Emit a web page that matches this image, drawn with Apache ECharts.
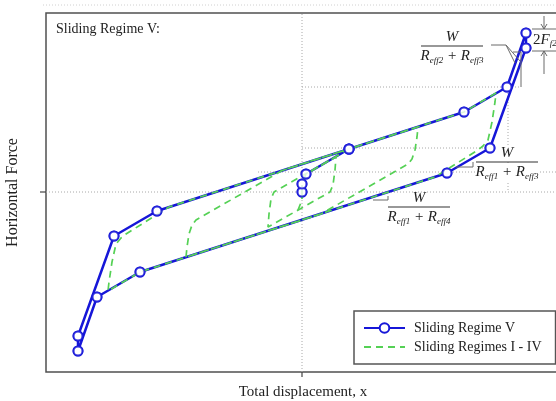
<!DOCTYPE html>
<html><head><meta charset="utf-8">
<script src="https://cdn.jsdelivr.net/npm/echarts@6/dist/echarts.min.js"></script>
<style>html,body{margin:0;padding:0;background:#fff}#c{width:556px;height:401px}</style>
</head><body><div id="c"></div>
<script>
// ---- data (displacement, force) in chart units, origin at the centre tick ----
const regimeV = [
  [0,0],[0,8],[4,18],[47,43],[162,80],[205,105],[224,159],[224,144],
  [188,44],[145,19],[-162,-80],[-205,-105],[-224,-159],[-224,-144],
  [-188,-44],[-145,-19],[47,43]
];
const regimesLoops = [
  [0,0],[0,8],[4,18],[34,35],
  [33,22],[31,7],[28,0],[26,-2],
  [-34,-35],
  [-33,-22],[-31,-7],[-28,0],[-26,2],
  [47,43],[116,65],
  [115,55],[113,42],[110,33],[106,28],
  [19,-22],[-116,-65],
  [-115,-55],[-113,-42],[-110,-33],[-106,-28],
  [-19,22],[162,80],[194,99],
  [193,90],[190,70],[186,52],[181,46],[176,42],
  [133,15],[-162,-80],[-194,-99],
  [-193,-90],[-190,-70],[-186,-52],[-181,-46],[-176,-42],
  [-133,-15],[47,43]
];
const regimesStartNeg = [[0,0],[0,-8],[-4,-18]];
const refLines = [
  [[-256,0],[258,0]],
  [[0,-180],[0,179]],
  [[0,105],[219,105]],
  [[0,44],[188,44]],
  [[-44,20],[258,20]],
  [[206,105],[206,0]]
];
const xTickValues = [0];
const yTickValues = [0];
const xRange = [-256, 258];
const yRange = [-180, 179];
const names = ['Sliding Regime V', 'Sliding Regimes I - IV'];
const titleText = 'Sliding Regime V:';
const xName = 'Total displacement, x';
const yName = 'Horizontal Force';

// ---- styling ----
const serif = '"Liberation Serif", "Times New Roman", serif';
const BLUE = '#1616d8', GREEN = '#55d155', GRAYLINE = '#6a6a6a', TXT = '#222';

function frac(cx, barY, halfW, sub1, sub2, bg) {
  const rich = {
    i: {fontFamily: serif, fontStyle: 'italic', fontSize: 15, lineHeight: 17, fill: TXT},
    s: {fontFamily: serif, fontStyle: 'italic', fontSize: 9, lineHeight: 9, verticalAlign: 'bottom', fill: TXT}
  };
  return [
    {type: 'text', x: cx, y: barY - 1, z: 20, style: {text: 'W', fontFamily: serif, fontStyle: 'italic', fontSize: 15, fill: TXT, align: 'center', verticalAlign: 'bottom', backgroundColor: bg ? '#fff' : 'transparent'}},
    {type: 'line', z: 20, shape: {x1: cx - halfW, y1: barY, x2: cx + halfW, y2: barY}, style: {stroke: '#333', lineWidth: 1.1}},
    {type: 'text', x: cx, y: barY + 2, z: 20, style: {text: '{i|R}{s|' + sub1 + '}{i| + R}{s|' + sub2 + '}', rich: rich, align: 'center', verticalAlign: 'top', backgroundColor: bg ? '#fff' : 'transparent'}}
  ];
}
function pl(points) {
  return {type: 'polyline', z: 20, shape: {points: points}, style: {stroke: GRAYLINE, lineWidth: 1, fill: null}};
}

const graphics = [].concat(
  frac(452, 46, 31, 'eff2', 'eff3', false),
  frac(507, 162, 31, 'eff1', 'eff3', true),
  frac(419, 207, 31, 'eff1', 'eff4', false),
  [
    pl([[491,45],[506,45],[515,63]]),
    pl([[506,45],[520,61]]),
    pl([[513,52],[521,52],[521,87]]),
    pl([[456,167],[473,167],[473,162]]),
    pl([[373,200],[388,200],[388,196]]),
    pl([[532,29],[556,29]]),
    pl([[532,51],[556,51]]),
    pl([[544,16],[544,29]]),
    pl([[541,24],[544,29],[547,24]]),
    pl([[544,74],[544,51]]),
    pl([[541,56],[544,51],[547,56]]),
    {type: 'text', x: 533, y: 40, z: 20, style: {text: '{n|2}{i|F}{s|f2}', verticalAlign: 'middle', rich: {
      n: {fontFamily: serif, fontSize: 15, lineHeight: 17, fill: TXT},
      i: {fontFamily: serif, fontStyle: 'italic', fontSize: 15, lineHeight: 17, fill: TXT},
      s: {fontFamily: serif, fontStyle: 'italic', fontSize: 9, lineHeight: 9, verticalAlign: 'bottom', fill: TXT}
    }}},
    {type: 'line', z: 1, shape: {x1: 43, y1: 5, x2: 556, y2: 5}, style: {stroke: '#d0d0d0', lineWidth: 1, lineDash: [1, 2]}}
  ]
);

const series = [];
refLines.forEach(function (seg) {
  series.push({type: 'line', data: seg, symbol: 'none', silent: true, z: 1,
    lineStyle: {color: '#a8a8a8', width: 1, type: [1, 2]}});
});
series.push({name: names[0], type: 'line', data: regimeV, z: 3,
  symbol: 'emptyCircle', symbolSize: 9, showSymbol: true,
  lineStyle: {color: BLUE, width: 2.5}, itemStyle: {color: BLUE, borderWidth: 2}});
series.push({name: names[1], type: 'line', data: regimesLoops, z: 4, symbol: 'none',
  lineStyle: {color: GREEN, width: 1.7, type: [7, 5]}, itemStyle: {color: GREEN}});
series.push({name: names[1], type: 'line', data: regimesStartNeg, z: 4, symbol: 'none',
  lineStyle: {color: GREEN, width: 1.7, type: [7, 5]}, itemStyle: {color: GREEN}});
series.push({name: 'markers', type: 'scatter', data: regimeV, z: 5,
  symbol: 'circle', symbolSize: 9, itemStyle: {color: '#fff', borderColor: BLUE, borderWidth: 2}});

const chart = echarts.init(document.getElementById('c'), null, {renderer: 'canvas'});
chart.setOption({
  animation: false,
  backgroundColor: '#fff',
  title: {text: titleText, left: 51, top: 17,
    textStyle: {fontFamily: serif, fontSize: 14, fontWeight: 'normal', color: TXT}},
  grid: {left: 46, right: -4, top: 13, bottom: 29, containLabel: false, outerBoundsMode: 'none',
    show: true, borderColor: '#505050', borderWidth: 1.5},
  xAxis: {type: 'value', min: xRange[0], max: xRange[1],
    name: xName, nameLocation: 'middle', nameGap: 13,
    nameTextStyle: {fontFamily: serif, fontSize: 15, color: TXT},
    axisLine: {show: false}, splitLine: {show: false}, axisLabel: {show: false},
    axisTick: {show: false}},
  yAxis: {type: 'value', min: yRange[0], max: yRange[1],
    name: yName, nameLocation: 'middle', nameGap: 25, nameRotate: 90,
    nameTextStyle: {fontFamily: serif, fontSize: 16, color: TXT},
    axisLine: {show: false}, splitLine: {show: false}, axisLabel: {show: false},
    axisTick: {show: false}},
  legend: {data: [{name: names[0]}, {name: names[1], itemStyle: {color: 'rgba(0,0,0,0)', borderWidth: 0}}],
    orient: 'vertical', left: 354, top: 311,
    padding: [10, 14, 10, 9], itemGap: 5, itemWidth: 41, itemHeight: 12,
    borderColor: '#555', borderWidth: 1.5, backgroundColor: '#fff', borderRadius: 0,
    textStyle: {fontFamily: serif, fontSize: 14, color: TXT, padding: [0, 0, 0, 4]}},
  graphic: {elements: graphics},
  series: series
});

// axis ticks placed through the chart's own scales
const tickEls = [];
xTickValues.forEach(function (v) {
  const p = chart.convertToPixel({gridIndex: 0}, [v, yRange[0]]);
  tickEls.push({type: 'line', z: 20, shape: {x1: p[0], y1: p[1], x2: p[0], y2: p[1] + 5}, style: {stroke: '#444', lineWidth: 1.2}});
});
yTickValues.forEach(function (v) {
  const p = chart.convertToPixel({gridIndex: 0}, [xRange[0], v]);
  tickEls.push({type: 'line', z: 20, shape: {x1: p[0] - 6, y1: p[1], x2: p[0], y2: p[1]}, style: {stroke: '#444', lineWidth: 1.2}});
});
chart.setOption({graphic: {elements: graphics.concat(tickEls)}}, {replaceMerge: ['graphic']});
</script></body></html>
